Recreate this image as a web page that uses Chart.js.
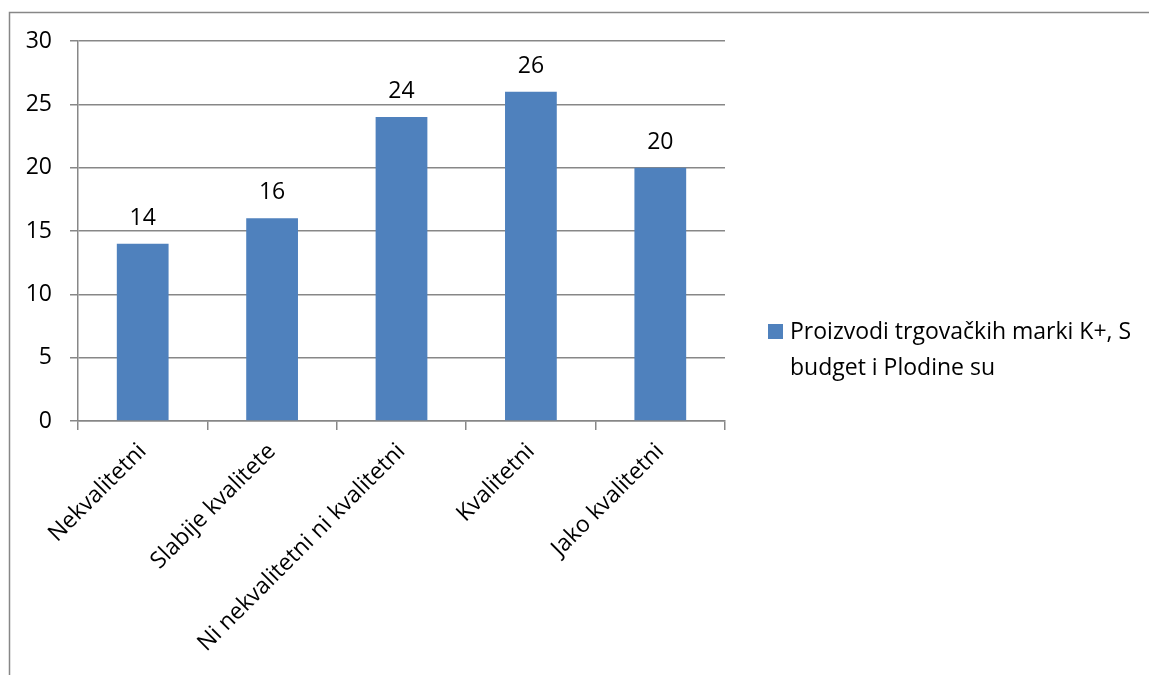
<!DOCTYPE html>
<html>
<head>
<meta charset="utf-8">
<script src="https://cdn.jsdelivr.net/npm/chart.js@4"></script>
<style>
  html, body { margin: 0; padding: 0; background: #fff; }
  #wrap { width: 1149px; height: 675px; }
</style>
</head>
<body>
<div id="wrap"><canvas id="main-graph" width="1149" height="675"></canvas></div>
<script>
// data
const categories = ["Nekvalitetni", "Slabije kvalitete", "Ni nekvalitetni ni kvalitetni", "Kvalitetni", "Jako kvalitetni"]
const seriesValues = [14, 16, 24, 26, 20]
const seriesLabel = ["Proizvodi trgovačkih marki K+, S", "budget i Plodine su"]
const yTicks = [0, 5, 10, 15, 20, 25, 30]

const FONT = "'Open Sans', sans-serif"
const FONT_SIZE = 23
const BAR_COLOR = "#4F81BD"
const GRID_COLOR = "#878787"

Chart.defaults.font.family = FONT
Chart.defaults.font.size = FONT_SIZE
Chart.defaults.color = "#000"

// outer frame + value labels + legend
const extras = {
    id: "extras",
    afterDatasetsDraw(chart) {
        const ctx = chart.ctx
        const meta = chart.getDatasetMeta(0)
        ctx.save()
        ctx.font = FONT_SIZE + "px " + FONT
        ctx.fillStyle = "#000"
        ctx.textAlign = "center"
        ctx.textBaseline = "alphabetic"
        meta.data.forEach((bar, i) => {
            ctx.fillText(String(seriesValues[i]), bar.x, bar.y - 19)
        })
        ctx.restore()
    },
    afterDraw(chart) {
        const ctx = chart.ctx
        ctx.save()
        // frame
        ctx.strokeStyle = GRID_COLOR
        ctx.lineWidth = 1.5
        ctx.strokeRect(9.5, 12.5, 1200, 700)
        // legend
        ctx.fillStyle = BAR_COLOR
        ctx.fillRect(768, 324, 15, 15)
        ctx.fillStyle = "#000"
        ctx.font = FONT_SIZE + "px " + FONT
        ctx.textAlign = "left"
        ctx.textBaseline = "middle"
        seriesLabel.forEach((line, i) => {
            ctx.fillText(line, 790, 332 + i * 36)
        })
        ctx.restore()
    }
}

new Chart(document.getElementById("main-graph"), {
    type: "bar",
    data: {
        labels: categories,
        datasets: [{
            label: seriesLabel.join(" "),
            data: seriesValues,
            backgroundColor: BAR_COLOR,
            borderWidth: 0,
            categoryPercentage: 1,
            barPercentage: 0.4
        }]
    },
    options: {
        responsive: false,
        animation: false,
        devicePixelRatio: 1,
        layout: { padding: { top: 41, left: 0, right: 424, bottom: 0 } },
        plugins: {
            legend: { display: false },
            tooltip: { enabled: false }
        },
        scales: {
            y: {
                min: 0,
                max: 30,
                afterBuildTicks: s => { s.ticks = yTicks.map(v => ({ value: v })) },
                afterFit: s => { s.width = 78 },
                border: { color: GRID_COLOR, width: 1.5 },
                grid: { color: GRID_COLOR, lineWidth: 1.5, tickLength: 8 },
                ticks: { padding: 18 }
            },
            x: {
                afterFit: s => { s.height = 254 },
                border: { color: GRID_COLOR, width: 1.5 },
                grid: { color: GRID_COLOR, lineWidth: 1.5, drawOnChartArea: false, tickLength: 9, offset: true },
                ticks: { minRotation: 45, maxRotation: 45, autoSkip: false, padding: 8 }
            }
        }
    },
    plugins: [extras]
})
</script>
</body>
</html>
